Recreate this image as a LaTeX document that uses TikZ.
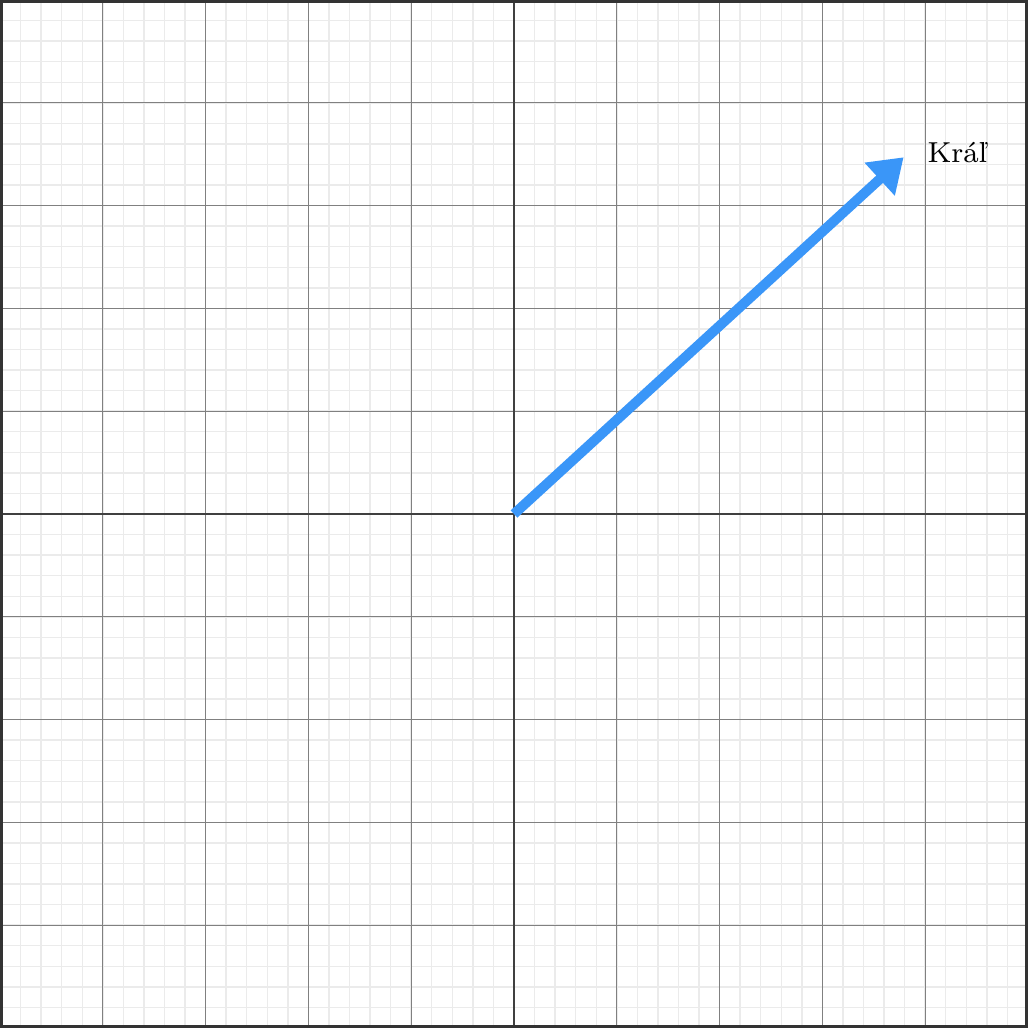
\documentclass[tikz,border=0pt]{standalone}
\usepackage{amsmath}
\usepackage{tikz}
\usepackage{xcolor}
\usetikzlibrary{arrows.meta}
\definecolor{vecblue}{RGB}{58,150,248}
\tikzset{
    minor-grid/.style = {draw=gray!16, line width=0.4pt},
    major-grid/.style = {draw=black!50, line width=0.3pt},
    axis-line/.style = {draw=black!75, line width=0.6pt},
    frame-box/.style = {draw=black!80, line width=1.6pt},
    vector-arrow/.style = {draw=vecblue, line width=2.75pt, -{Triangle[length=9pt,width=11.8pt]}},
    vector-label/.style = {anchor=west, inner sep=3pt, font=\fontsize{8}{10}\selectfont},
}

\begin{document}
\begin{tikzpicture}
\useasboundingbox (-5,-5) rectangle (5,5);
\draw [minor-grid] (-5,-5) grid[step=0.2] (5,5);
\draw [major-grid] (-5,-5) grid[step=1] (5,5);
\draw [axis-line] (-5,0) -- (5,0);
\draw [axis-line] (0,-5) -- (0,5);
\draw [frame-box] (-5,-5) rectangle (5,5);
\coordinate (origin) at (0,0);
\coordinate (kral) at (3.79,3.47);
\draw [vector-arrow] (origin) -- (kral);
\node [vector-label] (kral-label) at ([xshift=0.12cm,yshift=0.05cm]kral.east) {Kráľ};
\end{tikzpicture}
\end{document}
